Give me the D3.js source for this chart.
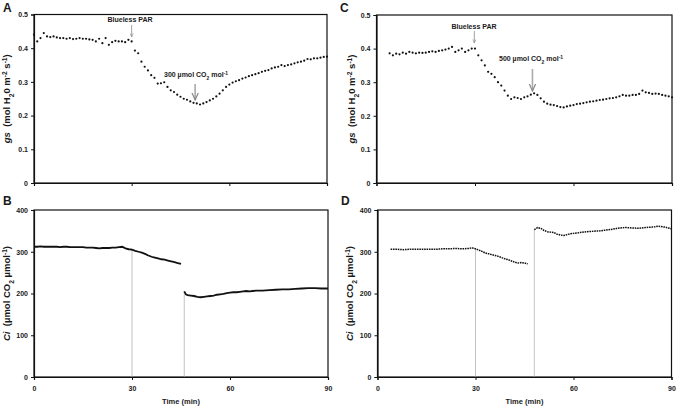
<!DOCTYPE html>
<html><head><meta charset="utf-8">
<script src="https://cdn.jsdelivr.net/npm/d3@7"></script>
<style>body{margin:0;background:#fff}svg{display:block;font-family:"Liberation Sans",Arial,sans-serif}</style>
</head><body><svg id="c" width="677" height="408"></svg>
<script>
// ---------- data ----------
const timeTicks = [0, 30, 60, 90];
const gsTicks = [0, 0.1, 0.2, 0.3, 0.4, 0.5];
const gsTickLabels = ["0", "0.1", "0.2", "0.3", "0.4", "0.5"];
const ciTicks = [0, 100, 200, 300, 400];

// Panel A: gs (300 µmol CO2 mol-1)
const gsA_time = d3.range(0, 91, 1);
const gsA_value = [0.44,0.42,0.43,0.445,0.435,0.433,0.435,0.432,0.43,0.43,0.428,0.43,0.427,0.428,0.43,0.428,0.428,0.426,0.425,0.42,0.428,0.415,0.43,0.41,0.418,0.422,0.42,0.42,0.418,0.425,0.42,0.393,0.385,0.36,0.345,0.334,0.32,0.312,0.295,0.296,0.299,0.285,0.275,0.27,0.262,0.256,0.25,0.247,0.242,0.238,0.236,0.233,0.236,0.24,0.245,0.25,0.257,0.265,0.275,0.285,0.292,0.298,0.302,0.305,0.31,0.313,0.317,0.32,0.323,0.326,0.33,0.333,0.335,0.34,0.343,0.345,0.35,0.347,0.35,0.352,0.355,0.358,0.36,0.363,0.368,0.367,0.37,0.37,0.372,0.374,0.375];

// Panel C: gs (500 µmol CO2 mol-1)
const gsC_time = d3.range(4, 91, 1);
const gsC_value = [0.386,0.38,0.385,0.383,0.388,0.385,0.39,0.388,0.386,0.388,0.387,0.388,0.39,0.392,0.39,0.393,0.395,0.397,0.40,0.405,0.39,0.395,0.40,0.39,0.395,0.40,0.40,0.38,0.365,0.35,0.331,0.325,0.315,0.30,0.29,0.275,0.26,0.25,0.255,0.253,0.25,0.255,0.258,0.263,0.267,0.262,0.252,0.242,0.236,0.233,0.232,0.229,0.226,0.225,0.228,0.23,0.232,0.235,0.236,0.238,0.24,0.242,0.243,0.245,0.247,0.248,0.25,0.252,0.253,0.255,0.258,0.262,0.26,0.26,0.262,0.262,0.265,0.275,0.27,0.268,0.265,0.266,0.265,0.262,0.26,0.258,0.255];

// Panel B: Ci, two segments
const ciB1_time = d3.range(0, 46, 1);
const ciB1_value = [312,312,313,312,312,312,312,312,311,312,312,311,311,311,311,311,310,310,310,309,308,309,309,309,310,310,311,312,308,306,305,302,300,298,295,291,288,286,284,282,281,279,277,275,273,271];
const ciB2_time = [46,46.5,47,48,49,50,51,52,53,54,55,56,57,58,59,60,61,62,63,64,65,66,67,68,69,70,72,74,76,78,80,82,84,86,88,90];
const ciB2_value = [205,198,196,195,194,192,191,192,193,194,195,197,198,199,201,202,203,203,204,205,206,205,206,207,207,207,208,209,210,210,211,212,213,213,212,212];
const dropB_time = [30, 46];
const dropB_value = [305, 205];

// Panel D: Ci, two segments
const ciD1_time = [4,6,8,10,12,14,16,18,20,22,24,26,28,29,30,31,32,33,34,35,36,37,38,39,40,41,42,43,44,45,46];
const ciD1_value = [306,306,305,306,306,306,306,306,307,307,308,307,308,309,307,304,301,297,295,293,291,289,286,283,281,278,275,273,274,273,271];
const ciD2_time = [48,49,50,51,52,53,54,55,56,57,58,59,60,62,64,66,68,70,72,74,76,78,80,82,84,86,88,90];
const ciD2_value = [353,358,356,351,348,347,346,342,340,339,341,343,344,346,348,349,350,352,354,357,358,357,356,358,359,361,359,355];
const dropD_time = [30, 48];
const dropD_value = [307, 353];

// ---------- drawing ----------
const svg = d3.select("#c");
const TXT = "#1a1a1a";

function zip(t, v) { return t.map((d, i) => [d, v[i]]); }

function richText(g, parts, fs) {
  const t = g.append("text").attr("font-size", fs).attr("font-weight", "bold").attr("fill", TXT).attr("text-anchor", "middle");
  parts.forEach(p => {
    const s = t.append("tspan").text(p.t);
    if (p.i) s.attr("font-style", "italic");
    if (p.sub) s.attr("font-size", fs * 0.7).attr("baseline-shift", "sub");
    if (p.sup) s.attr("font-size", fs * 0.7).attr("baseline-shift", "super");
  });
  return t;
}

function panel(cfg) {
  const x = d3.scaleLinear().domain([0, 90]).range([cfg.x0, cfg.x1]);
  const y = d3.scaleLinear().domain(cfg.ydom).range([cfg.y1, cfg.y0]);
  const g = svg.append("g");
  g.append("rect").attr("x", cfg.x0).attr("y", cfg.y0).attr("width", cfg.x1 - cfg.x0).attr("height", cfg.y1 - cfg.y0)
    .attr("fill", "none").attr("stroke", "#111").attr("stroke-width", 1.2);
  const ya = g.append("g").attr("transform", `translate(${cfg.x0},0)`)
    .call(d3.axisLeft(y).tickValues(cfg.yticks).tickSize(3).tickPadding(3).tickFormat((d, i) => cfg.ylabels[i]));
  const xa = g.append("g").attr("transform", `translate(0,${cfg.y1})`)
    .call(d3.axisBottom(x).tickValues(timeTicks).tickSize(3).tickPadding(6).tickFormat(cfg.xlab ? d3.format("d") : () => ""));
  [ya, xa].forEach(a => {
    a.select(".domain").attr("stroke", "#111").attr("stroke-width", 1.2);
    a.selectAll(".tick line").attr("stroke", "#111");
    a.selectAll("text").attr("font-size", 7).attr("font-weight", "bold").attr("fill", TXT).attr("font-family", "Liberation Sans, Arial, sans-serif");
  });
  const lg = g.append("g").attr("transform", `translate(${cfg.ylx},${(cfg.y0 + cfg.y1) / 2}) rotate(-90)`);
  richText(lg, cfg.ylabParts, 9.5).attr("dy", "0.35em");
  g.append("text").attr("x", cfg.letterX).attr("y", cfg.letterY).text(cfg.letter)
    .attr("font-size", 12).attr("font-weight", "bold").attr("fill", TXT);
  if (cfg.xlab) {
    g.append("text").attr("x", (cfg.x0 + cfg.x1) / 2).attr("y", cfg.y1 + 27).attr("text-anchor", "middle")
      .attr("font-size", 7.5).attr("font-weight", "bold").attr("fill", TXT).text("Time (min)");
  }
  return { g, x, y };
}

const gsLab = [{ t: "gs", i: true }, { t: "\u00a0 (mol H" }, { t: "2", sub: true }, { t: "0 m" }, { t: "-2", sup: true }, { t: " s" }, { t: "-1", sup: true }, { t: ")" }];
const ciLab = [{ t: "Ci", i: true }, { t: "\u00a0 (µmol CO" }, { t: "2", sub: true }, { t: " µmol" }, { t: "-1", sup: true }, { t: ")" }];

svg.append("defs").append("marker").attr("id", "ah").attr("viewBox", "0 0 10 10").attr("refX", 9).attr("refY", 5)
  .attr("markerWidth", 5).attr("markerHeight", 5).attr("orient", "auto")
  .append("path").attr("d", "M0,1 L9,5 L0,9").attr("fill", "none").attr("stroke", "#888").attr("stroke-width", 1.5);

function arrow(p, t, v0px, v1px, wide) {
  const xx = p.x(t);
  p.g.append("line").attr("x1", xx).attr("x2", xx).attr("y1", v0px).attr("y2", v1px)
    .attr("stroke", wide ? "#aaa" : "#888").attr("stroke-width", wide ? 1.6 : 0.8).attr("marker-end", "url(#ah)");
}

function label(p, parts, cx, by) {
  const gg = p.g.append("g").attr("transform", `translate(${cx},${by})`);
  richText(gg, parts, 7);
}

function dots(p, t, v) {
  p.g.append("g").selectAll("circle").data(zip(t, v)).join("circle")
    .attr("cx", d => p.x(d[0])).attr("cy", d => p.y(d[1])).attr("r", 1.1).attr("fill", "#111");
}

function ciLine(p, t, v, dash) {
  const line = d3.line().x(d => p.x(d[0])).y(d => p.y(d[1]));
  p.g.append("path").attr("d", line(zip(t, v))).attr("fill", "none").attr("stroke", "#111")
    .attr("stroke-width", dash ? 1.5 : 1.8).attr("stroke-dasharray", dash ? "1.6,0.8" : null);
}

function drops(p, t, v) {
  p.g.append("g").selectAll("line").data(zip(t, v)).join("line")
    .attr("x1", d => p.x(d[0])).attr("x2", d => p.x(d[0])).attr("y1", p.y(0)).attr("y2", d => p.y(d[1]))
    .attr("stroke", "#aaa").attr("stroke-width", 0.7);
}

// Panel A
const pA = panel({ x0: 34, x1: 327, y0: 14.5, y1: 183, ydom: [0, 0.5], yticks: gsTicks, ylabels: gsTickLabels,
  ylabParts: gsLab, ylx: 7, letter: "A", letterX: 3, letterY: 12, xlab: false });
dots(pA, gsA_time, gsA_value);
label(pA, [{ t: "Blueless PAR" }], 130, 22);
arrow(pA, 30, 25, 37, false);
label(pA, [{ t: "300 µmol CO" }, { t: "2", sub: true }, { t: " mol" }, { t: "-1", sup: true }], 196, 77);
arrow(pA, 49.5, 84, 100, true);

// Panel B
const pB = panel({ x0: 34, x1: 328, y0: 210, y1: 377, ydom: [0, 400], yticks: ciTicks, ylabels: ciTicks.map(String),
  ylabParts: ciLab, ylx: 7, letter: "B", letterX: 3, letterY: 205, xlab: true });
drops(pB, dropB_time, dropB_value);
ciLine(pB, ciB1_time, ciB1_value, false);
ciLine(pB, ciB2_time, ciB2_value, false);

// Panel C
const pC = panel({ x0: 376.5, x1: 672, y0: 15, y1: 183, ydom: [0, 0.5], yticks: gsTicks, ylabels: gsTickLabels,
  ylabParts: gsLab, ylx: 352, letter: "C", letterX: 340, letterY: 12, xlab: false });
dots(pC, gsC_time, gsC_value);
label(pC, [{ t: "Blueless PAR" }], 474, 29);
arrow(pC, 29.8, 31, 43, false);
label(pC, [{ t: "500 µmol CO" }, { t: "2", sub: true }, { t: " mol" }, { t: "-1", sup: true }], 531, 61);
arrow(pC, 47.5, 69, 91, true);

// Panel D
const pD = panel({ x0: 377.5, x1: 671.5, y0: 210, y1: 377, ydom: [0, 400], yticks: ciTicks, ylabels: ciTicks.map(String),
  ylabParts: ciLab, ylx: 350, letter: "D", letterX: 341, letterY: 205, xlab: true });
drops(pD, dropD_time, dropD_value);
ciLine(pD, ciD1_time, ciD1_value, true);
ciLine(pD, ciD2_time, ciD2_value, true);
</script></body></html>
